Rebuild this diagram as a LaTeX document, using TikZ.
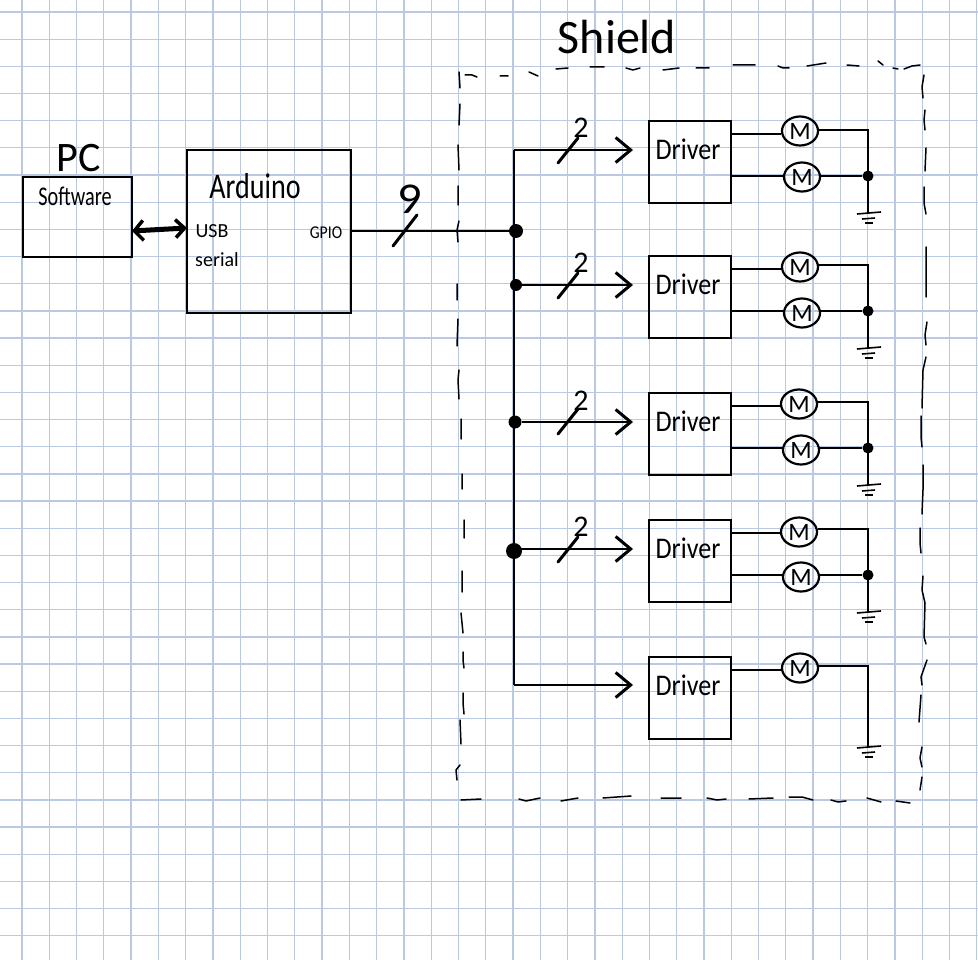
\documentclass[tikz,border=0pt]{standalone}
\usepackage{fontspec}
\setmainfont{Carlito}
\usetikzlibrary{shapes.geometric, arrows.meta, positioning}
\definecolor{gridblue}{HTML}{B9C9E2}
\tikzset{
    gridline/.style={draw=gridblue, line width=1.3pt},
    wire/.style={line width=1.8pt},
    box/.style={draw, line width=2pt, inner sep=0pt, outer sep=0pt},
    driverbox/.style={box, minimum width=82pt, minimum height=82pt},
    motor/.style={draw, ellipse, line width=2.2pt, minimum width=36pt, minimum height=29pt, inner sep=0pt, font=\fontsize{25}{25}\selectfont},
    junction/.style={circle, fill=black, inner sep=0pt, minimum size=11pt},
    tap/.style={wire, -{Straight Barb[length=15pt, width=25pt, line width=3pt]}},
    slash/.style={line width=3pt, line cap=round},
    gnd/.style={line width=1.6pt},
    hand/.style={inner sep=0pt},
    driverlabel/.style={hand, xscale=0.87, font=\fontsize{30}{30}\selectfont},
    widthlabel/.style={hand, font=\fontsize{30}{30}\selectfont},
    outline/.style={line width=1.5pt, line cap=round, line join=round}
}
\begin{document}
\begin{tikzpicture}[x=1pt, y=-1pt]
    \useasboundingbox (0,0) rectangle (978,960);
    \fill[white] (0,0) rectangle (978,960);
    \draw[gridline, y=1pt, shift={(22,-12)}, xstep=27.28, ystep=27.17] (-22,-948) grid (956,12);

    % left side
    \node[box, minimum width=109pt, minimum height=80pt] (pc) at (77.5,217) {};
    \node[box, minimum width=164pt, minimum height=163pt] (arduino) at (269,231.5) {};
    \node[hand, font=\fontsize{42}{42}\selectfont] (pclabel) at (79,158) {PC};
    \node[hand, xscale=0.75, font=\fontsize{27}{27}\selectfont] (software) at (75,196) {Software};
    \node[hand, xscale=0.78, font=\fontsize{36}{36}\selectfont] (arduinolabel) at (255,186) {Arduino};
    \node[hand, font=\fontsize{20}{20}\selectfont] (usb) at (212,231) {USB};
    \node[hand, font=\fontsize{20}{20}\selectfont] (serial) at (217,260) {serial};
    \node[hand, xscale=0.87, font=\fontsize{18}{18}\selectfont] (gpio) at (326,233) {GPIO};

    % shield outline, top then left then bottom then right
    \draw[outline] (465,75) -- (472,75) -- (477,77) (500,76) -- (508,76) (529,72) -- (538,76)
        (556,69) -- (568,68) (590,67) -- (604,67) (626,68) -- (633,70) -- (640,68)
        (663,70) -- (679,68) (696,68) -- (709,68) (733,65) -- (755,65)
        (778,66) -- (783,68) -- (789,68) (807,66) -- (826,63) (847,65) -- (859,66)
        (878,61) -- (883,65) (893,68) -- (898,69) (904,69) -- (912,66) -- (920,65);
    \draw[outline] (459,72) -- (460,88) (460,104) -- (459,125) (458,145) -- (459,170)
        (458,186) -- (458,205) (459,221) -- (457,230) -- (458,242) (457,284) -- (457,300)
        (458,319) -- (457,346) (459,370) -- (458,380) -- (459,399) (461,419) -- (461,439)
        (462,474) -- (462,489) (464,520) -- (464,538) (462,571) -- (462,592)
        (461,613) -- (463,633) (463,652) -- (463,660) -- (464,668) (463,693) -- (463,703) -- (464,714)
        (460,720) -- (461,744) (460,765) -- (456,770) -- (457,780);
    \draw[outline] (461,800) -- (481,799) (519,799) -- (526,801) -- (540,798) (561,801) -- (578,798)
        (603,798) -- (631,796) (661,798) -- (681,798) (707,798) -- (717,800) -- (726,799)
        (749,799) -- (773,798) (789,797) -- (802,797) -- (813,800) (831,800) -- (838,802) -- (846,801)
        (867,798) -- (881,802) (896,801) -- (910,803);
    \draw[outline] (924,75) -- (922,87) -- (923,98) (925,110) -- (924,120) -- (925,130) (926,148) -- (925,171)
        (924,187) -- (924,203) -- (926,214) (926,247) -- (926,297) (927,322) -- (925,335) -- (926,345)
        (926,357) -- (923,370) -- (922,408) (921,416) -- (921,437) -- (922,447)
        (923,465) -- (923,490) -- (922,514) (920,528) -- (920,543) -- (921,553)
        (923,576) -- (922,590) -- (925,603) -- (924,637) -- (926,644) (927,660) -- (921,677) -- (922,685)
        (921,695) -- (919,722) (922,747) -- (920,758) -- (922,767) (922,777) -- (920,790);
    \node[hand, font=\fontsize{48}{48}\selectfont] (shieldlabel) at (617,37) {Shield};

    % drivers
    \node[driverbox] (driver1) at (690,162) {};
    \node[driverbox] (driver2) [below=53pt of driver1] {};
    \node[driverbox] (driver3) [below=55pt of driver2] {};
    \node[driverbox] (driver4) [below=45pt of driver3] {};
    \node[driverbox] (driver5) [below=55pt of driver4] {};
    \node[driverlabel] (drivertext1) at (688,149) {Driver};
    \node[driverlabel] (drivertext2) at (688,284) {Driver};
    \node[driverlabel] (drivertext3) at (688,421) {Driver};
    \node[driverlabel] (drivertext4) at (688,548) {Driver};
    \node[driverlabel] (drivertext5) at (688,685) {Driver};

    % motors
    \node[motor] (motor1a) at (800,131) {M};
    \node[motor] (motor1b) at (802,177) {M};
    \node[motor] (motor2a) at (800,267) {M};
    \node[motor] (motor2b) at (802,313) {M};
    \node[motor] (motor3a) at (799,404) {M};
    \node[motor] (motor3b) at (801,450) {M};
    \node[motor] (motor4a) at (799,532) {M};
    \node[motor] (motor4b) at (801,577) {M};
    \node[motor] (motor5a) at (800,668) {M};

    % junctions on the bus
    \coordinate (bustop) at (514,150);
    \coordinate (buscorner) at (514,685);
    \node[junction, minimum size=14pt] (bus1) at (516,231) {};
    \node[junction, minimum size=12pt] (bus2) at (516,285) {};
    \node[junction, minimum size=13pt] (bus3) at (515,422) {};
    \node[junction, minimum size=16pt] (bus4) at (514,551) {};
    \coordinate (tip1) at (633,150);
    \coordinate (tip2) at (633,285);
    \coordinate (tip3) at (633,422);
    \coordinate (tip4) at (633,549);
    \coordinate (tip5) at (633,685);

    % junctions and grounds on the return
    \node[junction] (dot1) at (868,176) {};
    \node[junction] (dot2) at (868,311) {};
    \node[junction] (dot3) at (868,448) {};
    \node[junction] (dot4) at (868,575) {};
    \coordinate (gnd1) at (868,213);
    \coordinate (gnd2) at (868,348);
    \coordinate (gnd3) at (868,485);
    \coordinate (gnd4) at (868,612);
    \coordinate (gnd5) at (868,747);
    \foreach \g in {gnd1, gnd2, gnd3, gnd4, gnd5} {
        \draw[gnd] ([xshift=-11pt, yshift=-1pt]\g) -- ([xshift=13pt, yshift=1pt]\g);
        \draw[gnd] ([xshift=-6pt, yshift=-6pt]\g) -- ([xshift=7pt, yshift=-5pt]\g);
        \draw[gnd] ([xshift=-3pt, yshift=-10pt]\g) -- ([xshift=5pt, yshift=-10pt]\g);
    }

    % connectors on the left
    \draw[line width=5pt, {Straight Barb[length=9pt, width=20pt, line width=3.5pt]}-{Straight Barb[length=9pt, width=18pt, line width=3.5pt]}] (pc.east |- 0,231) -- (arduino.west |- 0,228);
    \draw[wire] (arduino.east |- bus1) -- (bus1);
    \coordinate (gpioslashlow) at (393,246);
    \coordinate (gpioslashhigh) at (417,215);
    \draw[slash] (gpioslashlow) -- (gpioslashhigh);
    \node[hand, xscale=1.1, font=\fontsize{44}{44}\selectfont] (buswidth) at (410,199) {9};

    % bus and taps
    \draw[wire] (bustop) -- (buscorner);
    \draw[tap] (bustop) -- (tip1);
    \draw[tap] (bus2) -- (tip2);
    \draw[tap] (bus3) -- (tip3);
    \draw[tap] (bus4 |- tip4) -- (tip4);
    \draw[tap] (buscorner) -- (tip5);

    \draw[slash] (558,163) -- (578,138);
    \draw[slash] (558,298) -- (578,273);
    \draw[slash] (558,434) -- (578,409);
    \draw[slash] (558,562) -- (578,537);
    \node[widthlabel] (width1) at (581,128) {2};
    \node[widthlabel] (width2) at (581,263) {2};
    \node[widthlabel] (width3) at (581,401) {2};
    \node[widthlabel] (width4) at (581,527) {2};

    % driver to motor to ground
    \draw[wire] (driver1.east |- 0,134) -- (motor1a.west |- 0,134);
    \draw[wire] (driver1.east |- dot1) -- (motor1b.west |- dot1);
    \draw[wire] (motor1a.east |- 0,130) -| (gnd1);
    \draw[wire] (motor1b.east |- dot1) -- (dot1);

    \draw[wire] (driver2.east |- 0,269) -- (motor2a.west |- 0,269);
    \draw[wire] (driver2.east |- dot2) -- (motor2b.west |- dot2);
    \draw[wire] (motor2a.east |- 0,265) -| (gnd2);
    \draw[wire] (motor2b.east |- dot2) -- (dot2);

    \draw[wire] (driver3.east |- 0,406) -- (motor3a.west |- 0,406);
    \draw[wire] (driver3.east |- dot3) -- (motor3b.west |- dot3);
    \draw[wire] (motor3a.east |- 0,402) -| (gnd3);
    \draw[wire] (motor3b.east |- dot3) -- (dot3);

    \draw[wire] (driver4.east |- 0,533) -- (motor4a.west |- 0,533);
    \draw[wire] (driver4.east |- dot4) -- (motor4b.west |- dot4);
    \draw[wire] (motor4a.east |- 0,529) -| (gnd4);
    \draw[wire] (motor4b.east |- dot4) -- (dot4);

    \draw[wire] (driver5.east |- 0,670) -- (motor5a.west |- 0,670);
    \draw[wire] (motor5a.east |- 0,666) -| (gnd5);
\end{tikzpicture}
\end{document}
